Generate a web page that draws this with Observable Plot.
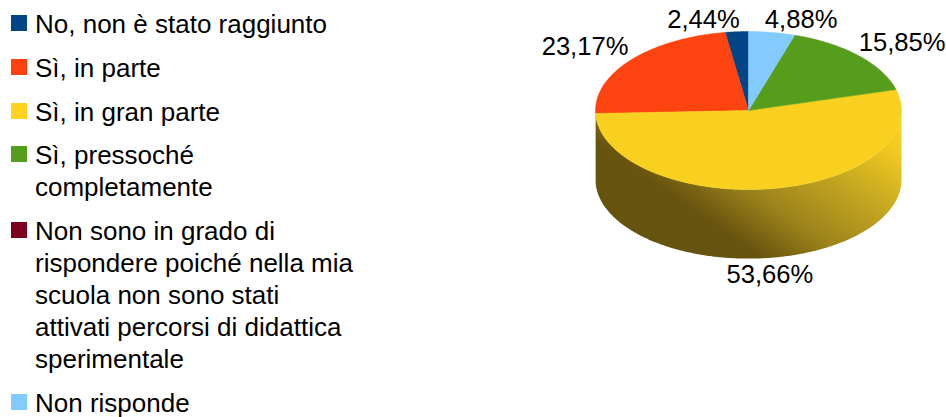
<!DOCTYPE html>
<html lang="it">
<head>
<meta charset="utf-8">
<script src="https://cdn.jsdelivr.net/npm/d3@7"></script>
<script src="https://cdn.jsdelivr.net/npm/@observablehq/plot@0.6"></script>
<style>
  html, body { margin: 0; padding: 0; background: #fff; width: 946px; height: 417px; overflow: hidden; }
  body { position: relative; font-family: "Liberation Sans", Arial, sans-serif; color: #000; }
  #chart { position: absolute; left: 0; top: 0; }
  #legend { position: absolute; left: 11px; top: 8px; width: 345px; display: flex; flex-direction: column; gap: 11.8px; font-size: 26px; line-height: 32px; }
  .item { display: flex; align-items: flex-start; }
  .swatch { flex: none; width: 16px; height: 16px; margin: 7px 8px 0 0; }
</style>
</head>
<body>
<div id="chart"></div>
<div id="legend"></div>
<script>
const categories = [
  "No, non è stato raggiunto",
  "Sì, in parte",
  "Sì, in gran parte",
  "Sì, pressoché completamente",
  "Non sono in grado di rispondere poiché nella mia scuola non sono stati attivati percorsi di didattica sperimentale",
  "Non risponde"
];
const shares = [2.44, 23.17, 53.66, 15.85, 0, 4.88];
const shareLabels = ["2,44%", "23,17%", "53,66%", "15,85%", "", "4,88%"];
const topColors = ["#004586", "#fc4310", "#f9d01f", "#579d1c", "#7e0021", "#83caff"];
const legendColors = ["#004586", "#ff420e", "#ffd320", "#579d1c", "#7e0021", "#83caff"];

// Slices run counter-clockwise from 12 o'clock, in legend order.
const total = d3.sum(shares);
let running = 0;
const slices = shares.map((v, i) => {
  const a0 = -running / total * 2 * Math.PI;
  running += v;
  const a1 = -running / total * 2 * Math.PI;
  return {i, v, a0, a1, mid: (a0 + a1) / 2};
});

const depth = 0.875; // pie thickness, in units of the vertical radius
const ex = a => Math.sin(a);
const ey = a => Math.cos(a);
const arc = (a0, a1) => {
  const n = Math.max(2, Math.ceil(Math.abs(a1 - a0) / 0.01));
  return d3.range(n + 1).map(k => a0 + (a1 - a0) * k / n);
};

// Top faces
const topPts = slices.filter(s => s.v > 0).flatMap(s => [
  {k: s.i, x: 0, y: 0},
  ...arc(s.a0, s.a1).map(a => ({k: s.i, x: ex(a), y: ey(a)})),
  {k: s.i, x: 0, y: 0}
]);

// Visible wall: the front part of the largest slice
const big = slices[2];
const front = arc(-Math.PI * 1.5, -Math.PI * 0.5).filter(a => a <= big.a0 + 1e-9 && a >= big.a1 - 1e-9);
const wallPts = [
  ...front.map(a => ({x: ex(a), y: ey(a)})),
  ...front.slice().reverse().map(a => ({x: ex(a), y: ey(a) - depth}))
];

// Labels
const labelStyle = [
  {anchor: "end", dx: 3, dy: -4, drop: 0},
  {anchor: "end", dx: -2, dy: -5, drop: 0},
  {anchor: "middle", dx: -2, dy: 25, drop: depth},
  {anchor: "start", dx: 0, dy: -5, drop: 0},
  null,
  {anchor: "start", dx: -7, dy: -4, drop: 0}
];
const labelMarks = slices.filter(s => s.v > 0).map(s => {
  const st = labelStyle[s.i];
  return Plot.text([s], {
    x: d => ex(d.mid),
    y: d => ey(d.mid) - st.drop,
    text: d => shareLabels[d.i],
    textAnchor: st.anchor,
    lineAnchor: "bottom",
    dx: st.dx,
    dy: st.dy,
    fontSize: 25.6,
    fontFamily: "Liberation Sans, Arial, sans-serif",
    fill: "#000"
  });
});

const wallGradient = () => {
  const ns = "http://www.w3.org/2000/svg";
  const defs = document.createElementNS(ns, "defs");
  defs.innerHTML = `<linearGradient id="wall" gradientUnits="userSpaceOnUse" x1="695" y1="225" x2="810" y2="60">
    <stop offset="0" stop-color="#66530f"/>
    <stop offset="0.06" stop-color="#68540f"/>
    <stop offset="0.3" stop-color="#9c831b"/>
    <stop offset="0.62" stop-color="#c8a921"/>
    <stop offset="0.88" stop-color="#f3ca20"/>
    <stop offset="1" stop-color="#f9d01f"/>
  </linearGradient>`;
  return defs;
};

const chart = Plot.plot({
  width: 946,
  height: 417,
  margin: 0,
  style: {background: "transparent", overflow: "visible"},
  x: {domain: [-1, 1], range: [595, 901], axis: null},
  y: {domain: [1, -1], range: [31, 189], axis: null},
  color: {type: "identity"},
  marks: [
    wallGradient,
    Plot.line(wallPts, {x: "x", y: "y", fill: "url(#wall)", stroke: "none"}),
    Plot.line(topPts, {x: "x", y: "y", z: "k", fill: d => topColors[d.k], stroke: d => topColors[d.k], strokeWidth: 0.5}),
    ...labelMarks
  ]
});
document.getElementById("chart").append(chart);

const legend = d3.select("#legend");
categories.forEach((name, i) => {
  const item = legend.append("div").attr("class", "item");
  item.append("span").attr("class", "swatch").style("background", legendColors[i]);
  item.append("span").text(name);
});
</script>
</body>
</html>
